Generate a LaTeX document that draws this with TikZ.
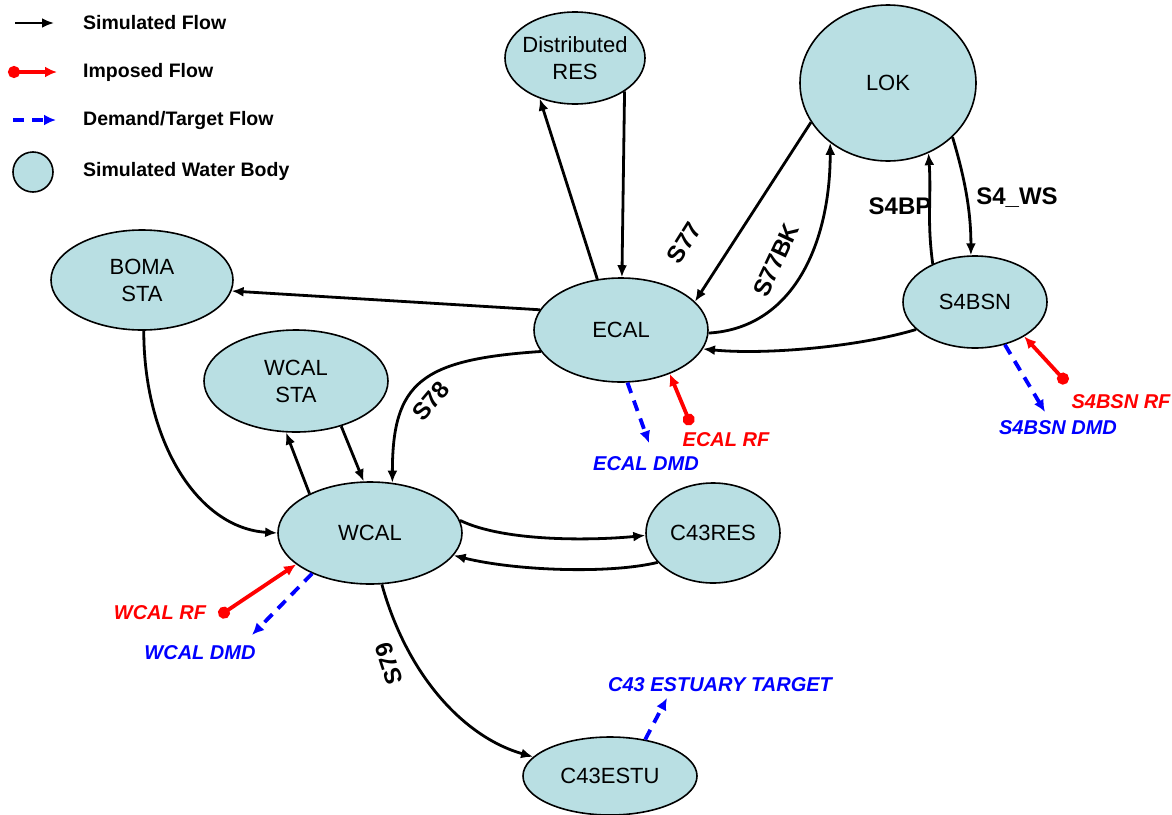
\documentclass[tikz,border=0pt]{standalone}
\usepackage{fontspec}
\setmainfont{Liberation Sans}
\usetikzlibrary{arrows.meta,shapes.geometric}
\definecolor{wb}{RGB}{185,223,227}
\newcommand\zc[1]{\makebox[0pt]{#1}}
\begin{document}
\begin{tikzpicture}[x=1pt,y=-1pt,
 wbody/.style={ellipse, draw=black, line width=1.6pt, fill=wb, inner sep=0pt, align=center, font=\fontsize{22}{27}\selectfont},
 sim/.style={line width=2.8pt, -{Latex[length=12pt,width=10pt]}},
 imp/.style={red, line width=3.8pt, {Circle[length=12pt]}-{Latex[length=12pt,width=11pt]}},
 dmd/.style={blue, line width=3.8pt, dash pattern=on 11pt off 8pt, -{Latex[length=12pt,width=11pt]}},
 elab/.style={font=\bfseries\fontsize{24}{28}\selectfont, inner sep=0pt},
 rlab/.style={red, font=\bfseries\itshape\fontsize{20}{24}\selectfont, inner sep=0pt},
 blab/.style={blue, font=\bfseries\itshape\fontsize{20}{24}\selectfont, inner sep=0pt},
 leg/.style={anchor=west, font=\bfseries\fontsize{19.5}{22}\selectfont, inner sep=0pt}]
\useasboundingbox (0,0) rectangle (1172,814);

% water bodies
\node[wbody, minimum width=140pt, minimum height=92pt] (DRES) at (575,58) {\zc{Distributed}\\\zc{RES}};
\node[wbody, minimum width=176pt, minimum height=156pt] (LOK) at (888,83) {\zc{LOK}};
\node[wbody, minimum width=182pt, minimum height=100pt] (BOMA) at (142,280) {\zc{BOMA}\\\zc{STA}};
\node[wbody, minimum width=174pt, minimum height=104pt] (ECAL) at (621,330) {\zc{ECAL}};
\node[wbody, minimum width=144pt, minimum height=92pt] (S4BSN) at (975,302) {\zc{S4BSN}};
\node[wbody, minimum width=184pt, minimum height=102pt] (WCALSTA) at (296,381) {\zc{WCAL}\\\zc{STA}};
\node[wbody, minimum width=184pt, minimum height=102pt] (WCAL) at (370,533) {\zc{WCAL}};
\node[wbody, minimum width=134pt, minimum height=100pt] (C43RES) at (713,533) {\zc{C43RES}};
\node[wbody, minimum width=174pt, minimum height=78pt] (C43ESTU) at (610,776) {\zc{C43ESTU}};

% simulated flows
\draw[sim] (ECAL.115) -- (DRES.229);
\draw[sim] (DRES.326) -- (ECAL.89);
\draw[sim] (LOK.207) -- (ECAL.21);
\draw[sim] (ECAL.358) .. controls +(85,-5) and +(0,100) .. (LOK.226);
\draw[sim] (S4BSN.138) .. controls +(-6,-45) and +(3,45) .. (LOK.300);
\draw[sim] (LOK.320) .. controls +(12,40) and +(0,-45) .. (S4BSN.95);
\draw[sim] (S4BSN.205) .. controls +(-60,18) and +(60,6) .. (ECAL.347);
\draw[sim] (ECAL.166) -- (BOMA.353);
\draw[sim] (ECAL.195) .. controls +(-120,8) and +(0,-100) .. (WCAL.66);
\draw[sim] (BOMA.272) .. controls +(0,110) and +(-80,-5) .. (WCAL.180);
\draw[sim] (WCAL.147) -- (WCALSTA.259);
\draw[sim] (WCALSTA.315) -- (WCAL.97);
\draw[sim] (WCAL.8) .. controls +(45,22) and +(-50,5) .. (C43RES.182);
\draw[sim] (C43RES.208) .. controls +(-50,12) and +(60,15) .. (WCAL.345);
\draw[sim] (WCAL.283) .. controls +(25,90) and +(-70,-20) .. (C43ESTU.166);

% flow labels
\node[elab, rotate=58] (lS77) at (684,243) {S77};
\node[elab, rotate=65] (lS77BK) at (776,260) {S77BK};
\node[elab] (lS4BP) at (900,206) {S4BP};
\node[elab] (lS4WS) at (1017,198) {S4\_WS};
\node[elab, rotate=50] (lS78) at (431,401) {S78};
\node[elab, rotate=108] (lS79) at (389,664) {S79};

% imposed and demand flows
\coordinate (ecalrf) at (691,425);
\coordinate (ecaldmd) at (649,443);
\coordinate (s4rf) at (1067,383);
\coordinate (s4dmd) at (1045,412);
\coordinate (wcrf) at (219,616);
\coordinate (wcdmd) at (252,635);
\coordinate (c43t) at (667,698);
\draw[imp] (ecalrf) -- (ECAL.318);
\draw[dmd] (ECAL.277) -- (ecaldmd);
\draw[imp] (s4rf) -- (S4BSN.325);
\draw[dmd] (S4BSN.305) -- (s4dmd);
\draw[imp] (wcrf) -- (WCAL.203);
\draw[dmd] (WCAL.215) -- (wcdmd);
\draw[dmd] (C43ESTU.46) -- (c43t);

\node[rlab] (lecalrf) at (726,440) {ECAL RF};
\node[blab] (lecaldmd) at (646,464) {ECAL DMD};
\node[rlab] (ls4rf) at (1121,402) {S4BSN RF};
\node[blab] (ls4dmd) at (1058,428) {S4BSN DMD};
\node[rlab] (lwcrf) at (160,613) {WCAL RF};
\node[blab] (lwcdmd) at (200,653) {WCAL DMD};
\node[blab] (lc43) at (720,685) {C43 ESTUARY TARGET};

% legend
\coordinate (l1a) at (15,23); \coordinate (l1b) at (54,23);
\coordinate (l2a) at (8,72); \coordinate (l2b) at (57,72);
\coordinate (l3a) at (13,120); \coordinate (l3b) at (56,120);
\draw[sim] (l1a) -- (l1b);
\draw[imp] (l2a) -- (l2b);
\draw[dmd] (l3a) -- (l3b);
\node[circle, draw=black, fill=wb, line width=1.6pt, minimum size=40pt, inner sep=0pt] (lcirc) at (33,172) {};
\node[leg] (t1) at (83,23) {Simulated Flow};
\node[leg] (t2) at (83,72) {Imposed Flow};
\node[leg] (t3) at (83,120) {Demand/Target Flow};
\node[leg] (t4) at (83,171) {Simulated Water Body};
\end{tikzpicture}
\end{document}
